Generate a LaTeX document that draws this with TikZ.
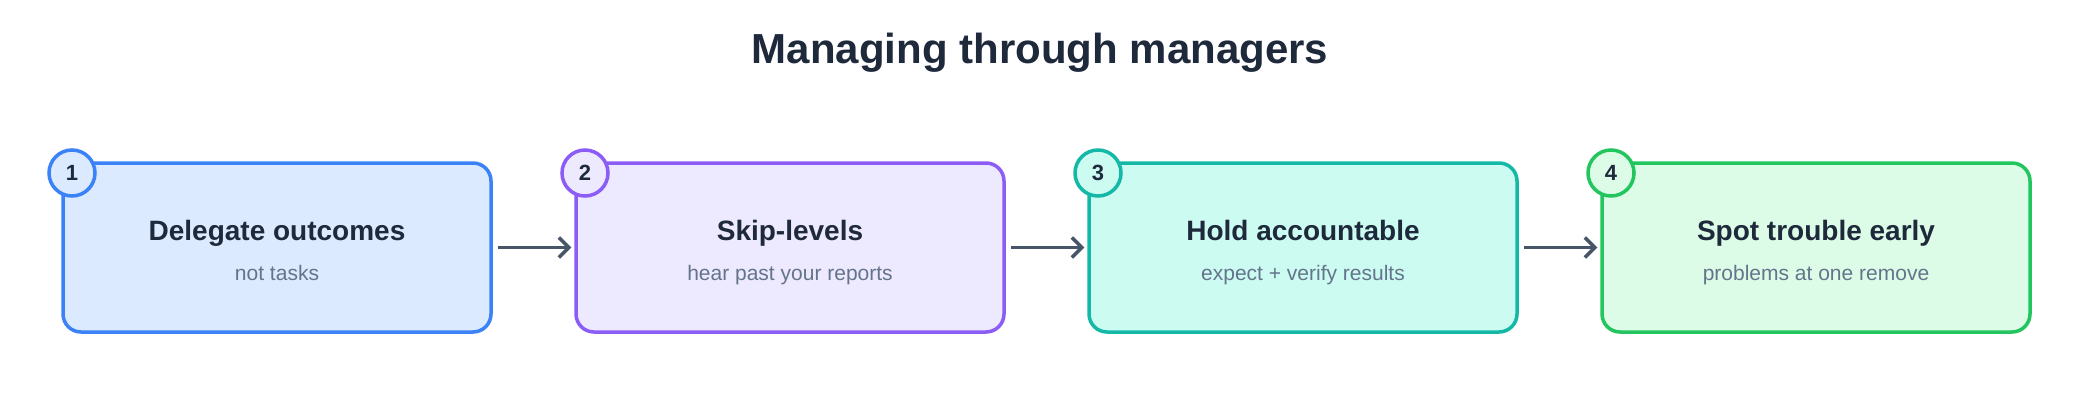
\documentclass[tikz,border=0pt]{standalone}
\usepackage{fontspec}
\setmainfont{Liberation Sans}
\usetikzlibrary{arrows.meta}

\definecolor{ink}{HTML}{1E293B}
\definecolor{muted}{HTML}{64748B}
\definecolor{wire}{HTML}{475569}
\definecolor{blueline}{HTML}{3B82F6}\definecolor{bluefill}{HTML}{DBEAFE}
\definecolor{purpleline}{HTML}{8B5CF6}\definecolor{purplefill}{HTML}{EDE9FE}
\definecolor{tealline}{HTML}{14B8A6}\definecolor{tealfill}{HTML}{CCFBF1}
\definecolor{greenline}{HTML}{22C55E}\definecolor{greenfill}{HTML}{DCFCE7}

\tikzset{
  stepbox/.style={draw=#1line, fill=#1fill, line width=3.5pt, rounded corners=18pt,
    minimum width=428pt, minimum height=169pt, inner sep=0pt},
  badge/.style={circle, draw=#1line, fill=#1fill, line width=3.5pt,
    minimum size=46pt, inner sep=0pt, font=\fontsize{22}{24}\selectfont\bfseries, text=ink},
  head/.style={anchor=base, font=\fontsize{28}{32}\selectfont\bfseries, text=ink},
  sub/.style={anchor=base, font=\fontsize{21}{24}\selectfont, text=muted},
  flow/.style={draw=wire, line width=3.5pt, -{Straight Barb[length=10pt,width=20pt]}}
}

\begin{document}
\begin{tikzpicture}[x=1pt, y=-1pt]
  \useasboundingbox (0,0) rectangle (2080,420);

  % Title
  \node[font=\fontsize{42}{48}\selectfont\bfseries, text=ink] (title) at (1040,53)
    {Managing through managers};

  % Steps
  \node[stepbox=blue]   (s1) at (277,247.5)  {};
  \node[stepbox=purple] (s2) at (790,247.5)  {};
  \node[stepbox=teal]   (s3) at (1303,247.5) {};
  \node[stepbox=green]  (s4) at (1816,247.5) {};

  \node[badge=blue]   (b1) at (72,173)   {1};
  \node[badge=purple] (b2) at (585,173)  {2};
  \node[badge=teal]   (b3) at (1098,173) {3};
  \node[badge=green]  (b4) at (1611,173) {4};

  \node[head] (h1) at (277,240)  {Delegate outcomes};
  \node[sub]  (t1) at (277,280)  {not tasks};
  \node[head] (h2) at (790,240)  {Skip-levels};
  \node[sub]  (t2) at (790,280)  {hear past your reports};
  \node[head] (h3) at (1303,240) {Hold accountable};
  \node[sub]  (t3) at (1303,280) {expect + verify results};
  \node[head] (h4) at (1816,240) {Spot trouble early};
  \node[sub]  (t4) at (1816,280) {problems at one remove};

  % Arrows
  \draw[flow] ([xshift=5pt]s1.east) -- ([xshift=-3pt]s2.west);
  \draw[flow] ([xshift=5pt]s2.east) -- ([xshift=-3pt]s3.west);
  \draw[flow] ([xshift=5pt]s3.east) -- ([xshift=-3pt]s4.west);
\end{tikzpicture}
\end{document}
